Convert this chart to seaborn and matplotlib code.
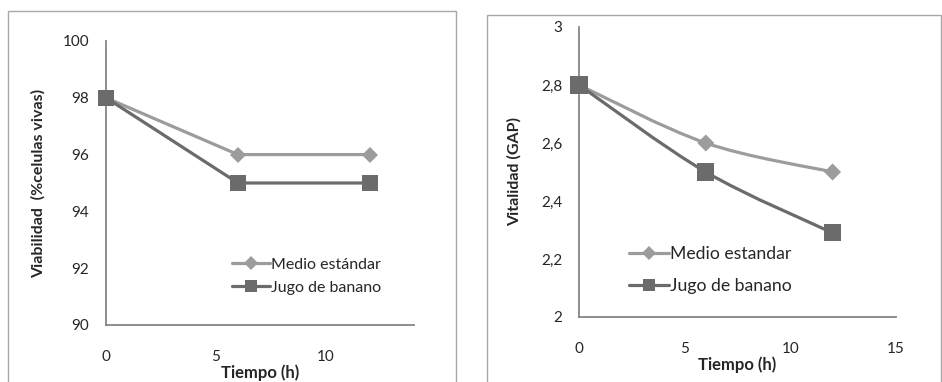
import numpy as np
import pandas as pd
import matplotlib
matplotlib.use("Agg")
import matplotlib.pyplot as plt
import seaborn as sns
from matplotlib.lines import Line2D
from matplotlib.patches import Rectangle, PathPatch
from matplotlib.path import Path

# ---- data ----
tiempo = [0, 6, 12]
series_names = ["Medio estándar", "Jugo de banano"]
series_names_r = ["Medio estandar", "Jugo de banano"]
viab_medio = [98, 96, 96]
viab_jugo = [98, 95, 95]
vital_medio = [2.8, 2.6, 2.5]
vital_jugo = [2.8, 2.5, 2.29]

left_yticks = [90, 92, 94, 96, 98, 100]
left_xticks = [0, 5, 10]
right_yticks = [2.0, 2.2, 2.4, 2.6, 2.8, 3.0]
right_yticklabels = ["2", "2,2", "2,4", "2,6", "2,8", "3"]
right_xticks = [0, 5, 10, 15]

sns.set_theme(style="white")
plt.rcParams["font.family"] = ["Lato", "DejaVu Sans"]

LIGHT = "#9c9c9c"
DARK = "#6b6b6b"
SPINE = "#868686"
TXT = "#262626"

fig = plt.figure(figsize=(9.42, 3.82), dpi=100)

# panel borders
fig.patches.append(Rectangle((8/942, -0.05), (456-8)/942, 1.05 - 11/382,
                             transform=fig.transFigure, fill=False,
                             edgecolor="#a8a8a8", linewidth=1.0, clip_on=False))
fig.patches.append(Rectangle((487/942, -0.05), (941-487)/942, 1.05 - 15/382,
                             transform=fig.transFigure, fill=False,
                             edgecolor="#a8a8a8", linewidth=1.0, clip_on=False))

axL = fig.add_axes([106/942, 1 - 325/382, 308/942, (325-41)/382])
axR = fig.add_axes([579/942, 1 - 317/382, 317/942, (317-27)/382])

def style_axes(ax):
    for s in ["top", "right"]:
        ax.spines[s].set_visible(False)
    for s in ["left", "bottom"]:
        ax.spines[s].set_color(SPINE)
        ax.spines[s].set_linewidth(1.3)
    ax.tick_params(axis="both", length=0, labelsize=11, colors=TXT)
    ax.tick_params(axis="y", pad=12)
    ax.tick_params(axis="x", pad=18)
    ax.patch.set_alpha(0)

# ---- left panel ----
dfL = pd.DataFrame({
    "t": tiempo * 2,
    "v": viab_medio + viab_jugo,
    "serie": [series_names[0]] * 3 + [series_names[1]] * 3,
})
sns.lineplot(data=dfL, x="t", y="v", hue="serie", style="serie",
             palette=[LIGHT, DARK], markers=["D", "s"], dashes=False,
             linewidth=2.3, markersize=9, markeredgewidth=0, ax=axL,
             legend=False, clip_on=False)
for ln, ms in zip(axL.lines, [8, 11]):
    ln.set_markersize(ms)
    ln.set_zorder(3)
axL.set_xlim(0, 14)
axL.set_ylim(90, 100)
axL.set_xticks(left_xticks)
axL.set_yticks(left_yticks)
style_axes(axL)
axL.set_xlabel("Tiempo (h)", fontsize=12, fontweight="bold", color=TXT, labelpad=0)
axL.set_ylabel("Viabilidad  (%celulas vivas)", fontsize=11.5, fontweight="bold",
               color=TXT, labelpad=12)

handlesL = [Line2D([], [], color=LIGHT, lw=2.3, marker="D", ms=7, mew=0),
            Line2D([], [], color=DARK, lw=2.3, marker="s", ms=9, mew=0)]
fig.legend(handlesL, series_names, loc="center left",
           bbox_to_anchor=(224/942, 1 - 276/382), frameon=False,
           handlelength=2.4, handletextpad=0.05, labelspacing=0.55,
           fontsize=11.5, labelcolor=TXT, borderpad=0)

# ---- right panel (smoothed lines) ----
def smooth_path(xs, ys):
    P = np.column_stack([xs, ys]).astype(float)
    n = len(P)
    verts = [P[0]]
    codes = [Path.MOVETO]
    for i in range(n - 1):
        p0 = P[i - 1] if i > 0 else P[i]
        p1, p2 = P[i], P[i + 1]
        p3 = P[i + 2] if i + 2 < n else P[i + 1]
        c1 = p1 + (p2 - p0) / 6.0
        c2 = p2 - (p3 - p1) / 6.0
        verts += [c1, c2, p2]
        codes += [Path.CURVE4] * 3
    return Path(verts, codes)

for ys, col in [(vital_medio, LIGHT), (vital_jugo, DARK)]:
    axR.add_patch(PathPatch(smooth_path(tiempo, ys), fill=False, edgecolor=col,
                            linewidth=2.3, zorder=2, clip_on=False,
                            capstyle="round"))

dfR = pd.DataFrame({
    "t": tiempo * 2,
    "v": vital_medio + vital_jugo,
    "serie": [series_names_r[0]] * 3 + [series_names_r[1]] * 3,
})
sns.scatterplot(data=dfR, x="t", y="v", hue="serie", style="serie",
                palette=[LIGHT, DARK], markers=["D", "s"], ax=axR,
                legend=False, linewidth=0, clip_on=False, zorder=3,
                size="serie", sizes={series_names_r[0]: 75, series_names_r[1]: 150})
axR.set_xlim(0, 15)
axR.set_ylim(2, 3)
axR.set_xticks(right_xticks)
axR.set_yticks(right_yticks)
axR.set_yticklabels(right_yticklabels)
style_axes(axR)
axR.set_xlabel("Tiempo (h)", fontsize=12, fontweight="bold", color=TXT, labelpad=0)
axR.set_ylabel("Vitalidad (GAP)", fontsize=11.5, fontweight="bold",
               color=TXT, labelpad=14)

handlesR = [Line2D([], [], color=LIGHT, lw=2.3, marker="D", ms=7, mew=0),
            Line2D([], [], color=DARK, lw=2.3, marker="s", ms=9, mew=0)]
fig.legend(handlesR, series_names_r, loc="center left",
           bbox_to_anchor=(620/942, 1 - 270/382), frameon=False,
           handlelength=2.3, handletextpad=0.05, labelspacing=0.9,
           fontsize=12.7, labelcolor=TXT, borderpad=0)

fig.savefig("out.png", dpi=100)
